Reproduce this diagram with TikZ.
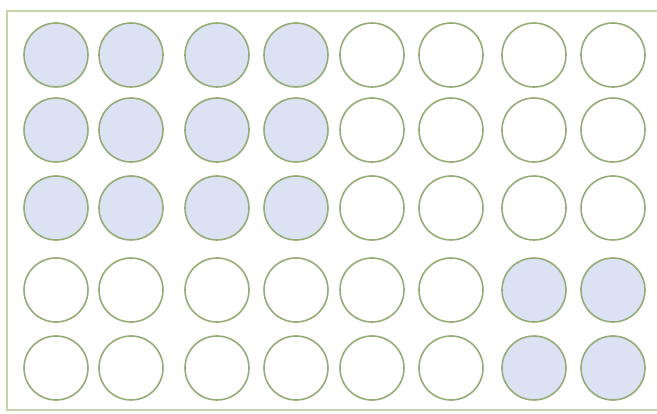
\documentclass[tikz,border=0pt]{standalone}
\definecolor{ringgreen}{RGB}{150,172,118}
\definecolor{wellblue}{RGB}{218,226,244}
\definecolor{framegreen}{RGB}{196,214,168}

\begin{document}
\begin{tikzpicture}[x=1pt,y=-1pt,
    well/.style={circle, draw=ringgreen, line width=1.6pt, minimum size=64pt, inner sep=0pt},
    wellfull/.style={well, fill=wellblue}]
    \useasboundingbox (0,0) rectangle (657,414);
    \draw[framegreen, line width=2pt] (657,11) -- (7,11) -- (7,410) -- (657,410);
    \foreach \c/\x in {1/56,2/131,3/217,4/296,5/372,6/451,7/534,8/613}
      \foreach \r/\y in {1/55,2/130,3/208,4/290,5/368} {
        \pgfmathtruncatemacro\isfull{((\c<5 && \r<4) || (\c>6 && \r>3)) ? 1 : 0}
        \ifnum\isfull=1
          \node[wellfull] (w-\r-\c) at (\x,\y) {};
        \else
          \node[well] (w-\r-\c) at (\x,\y) {};
        \fi
      }
\end{tikzpicture}
\end{document}
